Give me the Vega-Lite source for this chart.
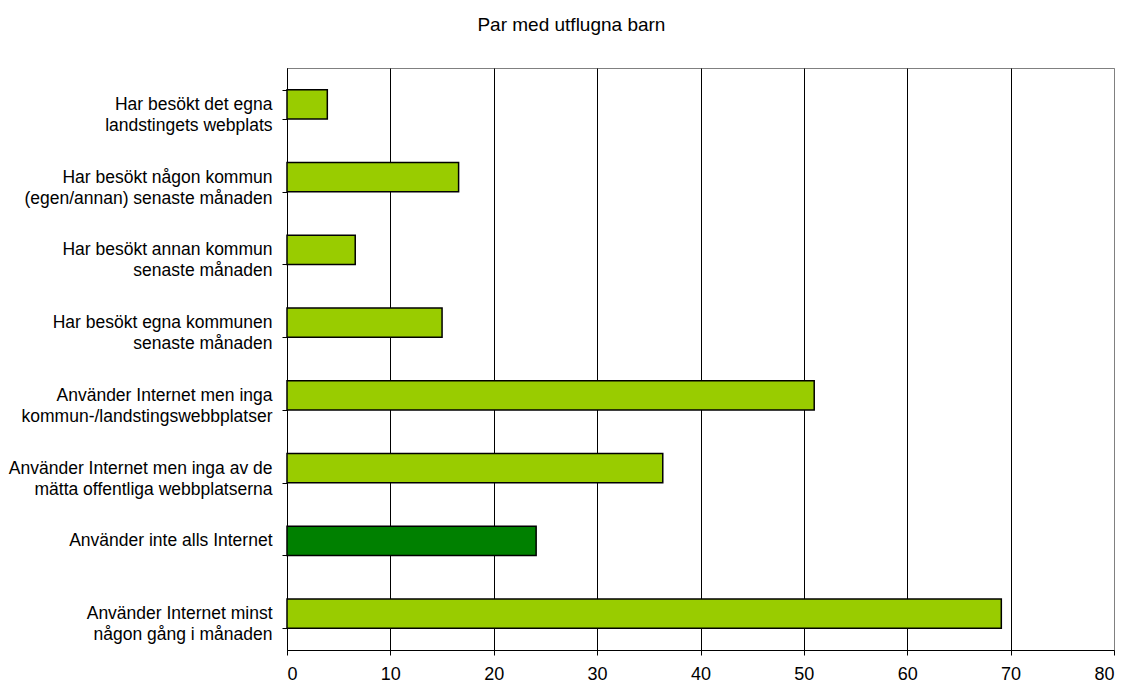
{
  "$schema": "https://vega.github.io/schema/vega-lite/v6.json",
  "width": 827,
  "height": 582,
  "padding": {"left": 8, "top": 16, "right": 10, "bottom": 0},
  "background": "white",
  "title": {"text": "Par med utflugna barn", "font": "Liberation Sans", "fontSize": 19, "fontWeight": "normal", "color": "black", "offset": 24, "frame": "bounds", "anchor": "middle", "dx": 10},
  "config": {
    "font": "Liberation Sans",
    "view": {"stroke": "#808080", "strokeWidth": 1}
  },
  "data": {
    "values": [
      {"kategori": "Har besökt det egna|landstingets webplats", "andel": 3.9, "typ": "a"},
      {"kategori": "Har besökt någon kommun|(egen/annan) senaste månaden", "andel": 16.6, "typ": "a"},
      {"kategori": "Har besökt annan kommun|senaste månaden", "andel": 6.6, "typ": "a"},
      {"kategori": "Har besökt egna kommunen|senaste månaden", "andel": 15.0, "typ": "a"},
      {"kategori": "Använder Internet men inga|kommun-/landstingswebbplatser", "andel": 51.0, "typ": "a"},
      {"kategori": "Använder Internet men inga av de|mätta offentliga webbplatserna", "andel": 36.35, "typ": "a"},
      {"kategori": "Använder inte alls Internet", "andel": 24.1, "typ": "b"},
      {"kategori": "Använder Internet minst|någon gång i månaden", "andel": 69.1, "typ": "a"}
    ]
  },
  "mark": {"type": "bar", "stroke": "black", "strokeWidth": 1.5},
  "encoding": {
    "y": {
      "field": "kategori", "type": "nominal", "sort": null,
      "scale": {"paddingInner": 0.6, "paddingOuter": 0.3},
      "axis": {
        "title": null,
        "labelExpr": "split(datum.label, '|')",
        "labelFontSize": 17.5, "labelColor": "black", "labelLineHeight": 21,
        "labelPadding": 10, "labelLimit": 400,
        "tickBand": "extent", "tickSize": 5, "tickColor": "black",
        "domainColor": "black", "grid": false
      }
    },
    "x": {
      "field": "andel", "type": "quantitative",
      "scale": {"domain": [0, 80], "nice": false},
      "axis": {
        "title": null, "values": [0, 10, 20, 30, 40, 50, 60, 70, 80],
        "labelFontSize": 18, "labelColor": "black", "labelPadding": 10,
        "tickSize": 5, "tickColor": "black", "domainColor": "black",
        "gridColor": {"condition": {"test": "datum.value === 80", "value": "#808080"}, "value": "black"},
        "gridOpacity": 1
      }
    },
    "color": {
      "field": "typ", "type": "nominal",
      "scale": {"domain": ["a", "b"], "range": ["#99CC00", "#008000"]},
      "legend": null
    }
  }
}
